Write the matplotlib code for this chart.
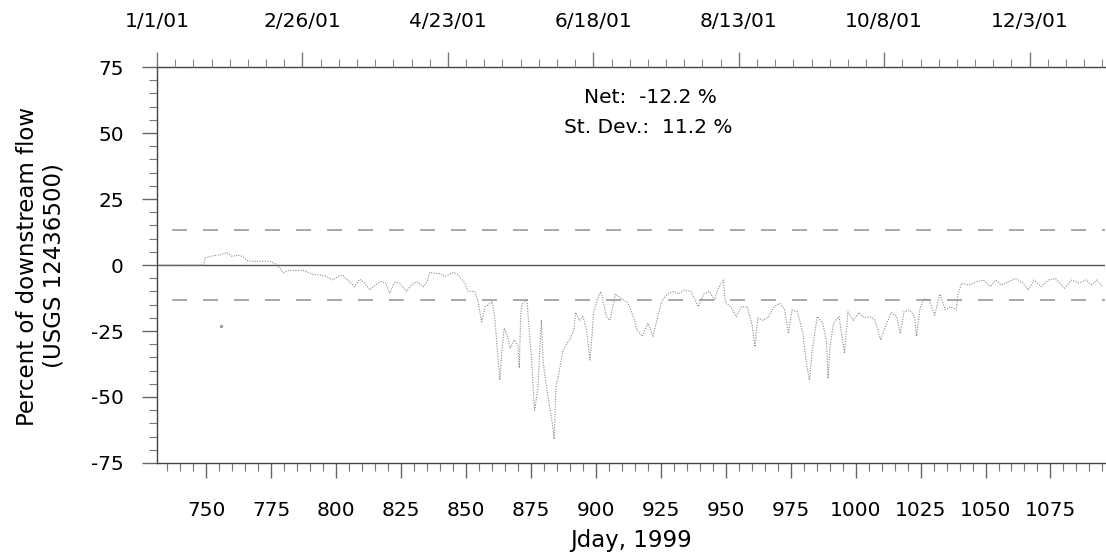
import matplotlib
matplotlib.use("Agg")
import matplotlib.pyplot as plt
from matplotlib.ticker import MultipleLocator, FixedLocator

plt.rcParams["axes.unicode_minus"] = False

# daily flow difference, percent of downstream gage flow
jday = [731, 749, 749.5, 752, 755, 758, 760, 762, 764, 766, 769, 772, 774.5, 777,
        779.6, 782, 784.5, 787, 791, 793.5, 796, 798.7, 800.6, 802.5, 805, 807,
        809, 811, 813, 815, 817, 819, 820.6, 822.5, 824.5, 827, 829, 831, 833.6,
        835, 836, 838, 840, 842, 844.7, 846.5, 848, 849.5, 850.8, 853.3, 854.6,
        856, 857.3, 858.5, 860, 861, 863, 864, 864.7, 866, 867, 868.6, 870, 870.5,
        871, 871.5, 873.4, 875, 876.4, 877.6,
        879.0, 879.7, 881.1, 883.2, 883.9, 884.6, 885.9, 887.3, 888.7, 890.1,
        891.5, 892.2, 893.6, 895, 896.4, 897.7, 898.4, 899.1, 900.5, 901.9, 904,
        905.4, 907.5, 910.2, 912.3, 914.4, 915.8, 917.9, 920, 922, 923.4, 925.5,
        927.6, 929.7, 931.8, 933.9, 936.6, 939.4, 941.5, 943.6, 945.7, 947,
        949.1, 949.8, 951.9, 954, 956.1, 958.2, 960.2, 961.2, 962.3, 964.4,
        966.5, 968.6, 970.7, 972.7, 974.1, 975.5, 977.6, 979.7, 981, 982.2,
        983.2, 985.2, 987.3, 988.7, 989.4, 990.1, 991.5, 993.6, 995.7, 997,
        999.1, 1001.2, 1003.3, 1005.4, 1007.5, 1009.6, 1011.6, 1013.7, 1015.8,
        1017.2, 1018.6, 1020.7, 1022.7, 1023.4, 1024.8, 1026.2, 1028.3, 1030.4,
        1032.5, 1034.5, 1036.6, 1038.7, 1039.4, 1040.8, 1043.6, 1046.4, 1049.1,
        1051.9, 1054, 1056.1, 1058.9, 1061.6, 1064.4, 1066.5, 1068.6, 1071.4,
        1074.1, 1076.9, 1080.4, 1083.2, 1085.9, 1088.7, 1090.8, 1092.9, 1095]
pct = [0, 0, 2.6, 3.4, 3.8, 4.7, 3.2, 3.8, 3.2, 1.6, 1.3, 1.5, 1.3, 0.3,
       -2.9, -1.9, -2.1, -1.9, -3.5, -3.8, -4.2, -5.7, -4.4, -3.8, -6.3, -8.2,
       -5.4, -6.8, -9.5, -7.6, -6.3, -6.8, -10.7, -6.6, -6.8, -10, -7.6, -6.3, -8.2,
       -6.3, -2.8, -3.2, -3.2, -4.4, -2.9, -3.2, -5.1, -6.8, -10, -10, -13.8,
       -21.5, -15.8, -15.2, -13.8, -19.5, -43.6, -29.8, -24, -27, -31.5, -28.4, -30.9, -39,
       -19.5, -15, -13, -33, -55, -47,
       -20.8, -37, -47, -60, -66, -46, -40, -32.5, -29.8, -28,
       -24.6, -18, -21, -19.5, -24.6, -36, -28, -18, -13, -10, -19.5,
       -21, -11, -13, -14.3, -19.6, -24.6, -27, -22, -27, -21, -13.3,
       -11, -10, -11, -9.5, -10, -15.8, -11, -10, -13.3, -9,
       -5.7, -14, -15.8, -19.6, -15.8, -15.8, -23, -31, -20, -21,
       -19.5, -15.8, -14.5, -17, -26, -17, -17.7, -26, -37, -43.6,
       -33, -19.5, -22, -28.4, -43, -31, -22, -19.5, -33.5, -17.7,
       -21, -18, -20, -19.5, -21, -28.4, -23, -18, -19.5,
       -26, -17.7, -17, -19.5, -27, -16.4, -12.7, -13.3, -19,
       -11, -17, -15.8, -17, -11, -6.9, -7.6, -6.3, -5.7,
       -8.2, -5.7, -7.6, -6.3, -5.1, -6.8, -9.5, -5.7, -8.2,
       -5.7, -5.1, -8.8, -5.7, -6.8, -5.7, -7.6, -5.7, -8.2]
stray_day = [755.6]
stray_pct = [-23]

sd_band = 13.3
net_text = "Net:  -12.2 %"
sd_text = "St. Dev.:  11.2 %"

bottom_ticks = list(range(750, 1076, 25))
date_ticks = [731, 787, 843, 899, 955, 1011, 1067]
date_labels = ["1/1/01", "2/26/01", "4/23/01", "6/18/01", "8/13/01", "10/8/01", "12/3/01"]

fig = plt.figure(figsize=(11.06, 5.57), dpi=100)
ax = fig.add_axes([157 / 1106, 1 - 463 / 557, 948 / 1106, 396 / 557])

ax.axhline(0, color="#555555", lw=1.0, zorder=1)
for y in (sd_band, -sd_band):
    ax.axhline(y, color="#999999", lw=1.2, linestyle=(9.6, (9, 9.6)), zorder=1)
ax.plot(jday, pct, color="#8a8a8a", lw=0.8, linestyle=(0, (1, 1.3)), zorder=2)
ax.plot(stray_day, stray_pct, ls="none", marker="s", ms=1.2, color="#999999")

ax.set_xlim(731, 1096)
ax.set_ylim(-75, 75)
ax.set_xticks(bottom_ticks)
ax.xaxis.set_minor_locator(MultipleLocator(5))
ax.set_yticks(range(-75, 76, 25))
ax.yaxis.set_minor_locator(MultipleLocator(5))

ax.spines["right"].set_visible(False)
for s in ("left", "bottom", "top"):
    ax.spines[s].set_color("#444444")
    ax.spines[s].set_linewidth(1.0)

ax.tick_params(which="major", direction="out", length=11, width=1, color="#666666",
               labelsize=14.5, top=False, right=False)
ax.tick_params(which="minor", direction="out", length=5.5, width=0.8, color="#777777",
               top=False, right=False)
ax.tick_params(axis="x", which="major", pad=16)
ax.tick_params(axis="y", which="major", pad=13)

top = ax.twiny()
top.set_xlim(ax.get_xlim())
top.xaxis.set_major_locator(FixedLocator(date_ticks))
top.set_xticklabels(date_labels)
top.xaxis.set_minor_locator(MultipleLocator(7, offset=731 % 7))
top.tick_params(which="major", direction="out", length=11, width=1, color="#777777",
                labelsize=14.5, pad=15)
top.tick_params(which="minor", direction="out", length=5.5, width=0.8, color="#888888")
for s in top.spines.values():
    s.set_visible(False)

ax.set_xlabel("Jday, 1999", fontsize=16.5, labelpad=7)
fig.text(41 / 1106, 1 - 266 / 557, "Percent of downstream flow\n(USGS 12436500)",
         rotation=90, ha="center", va="center", fontsize=16.5, multialignment="center")

ax.text(921, 63.6, net_text, ha="center", va="center", fontsize=14.5)
ax.text(920, 51.9, sd_text, ha="center", va="center", fontsize=14.5)

fig.savefig("out.png", dpi=100)
